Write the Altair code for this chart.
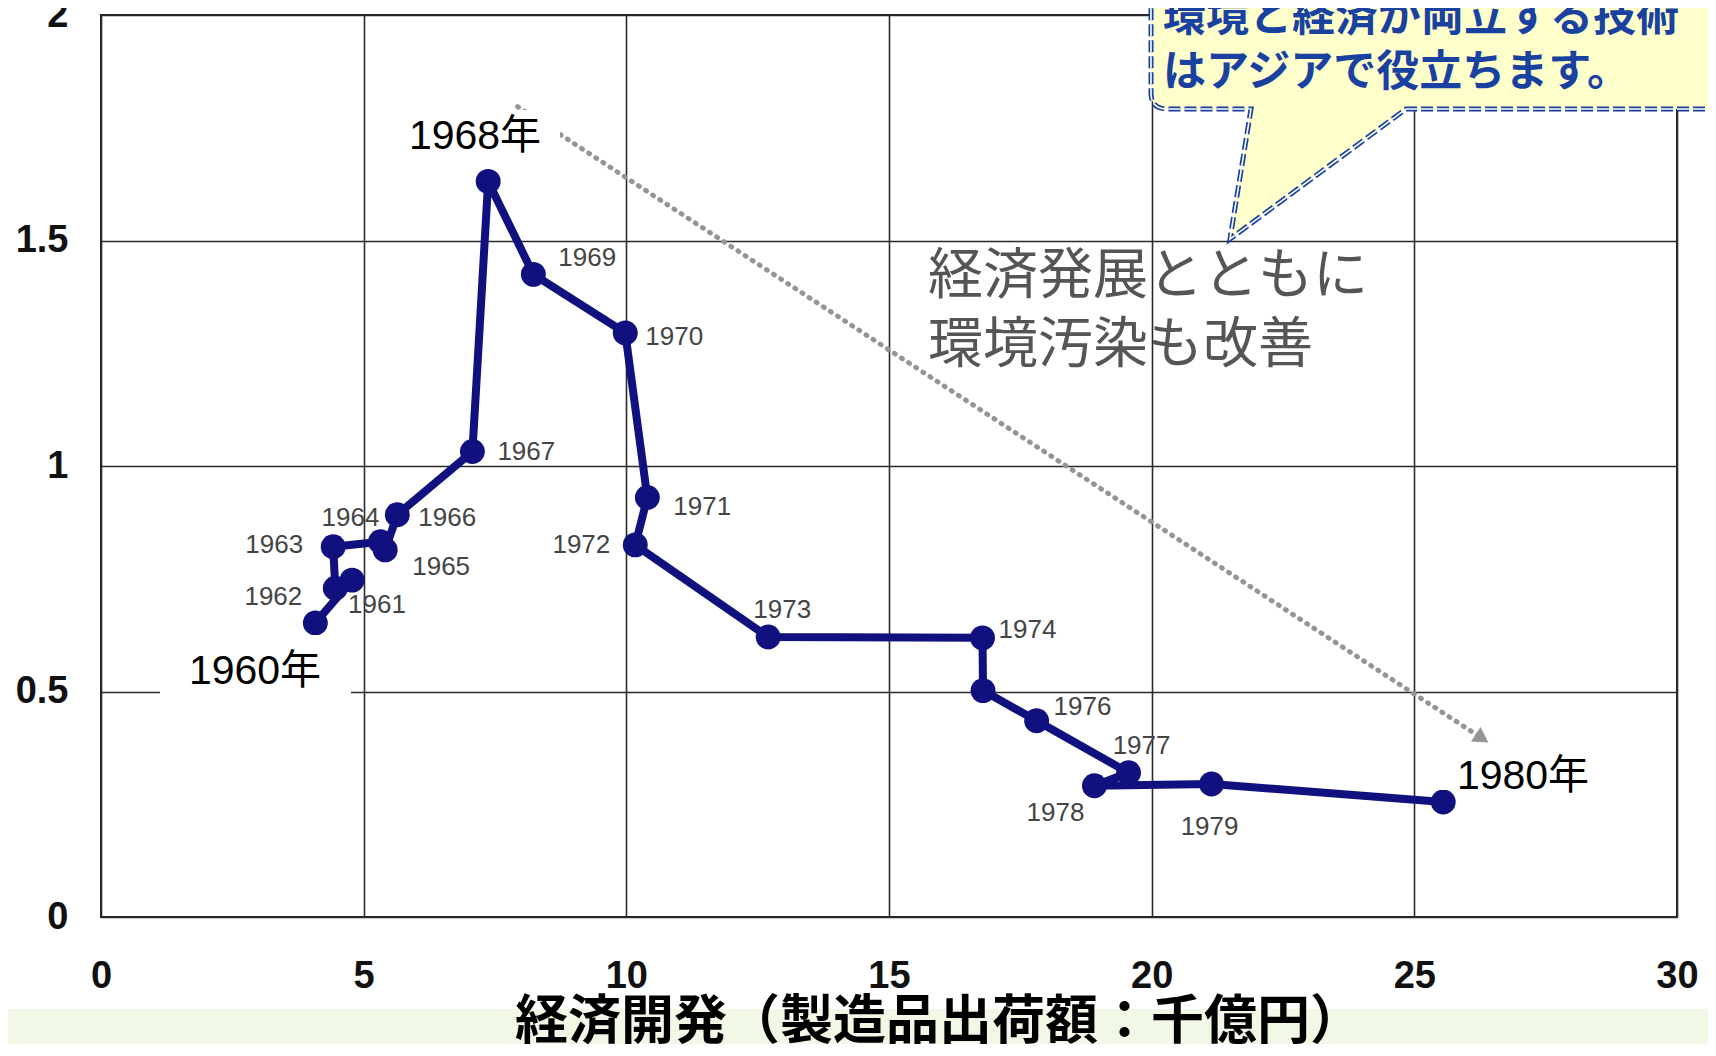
import math
import altair as alt
import pandas as pd

# ---------------- data ----------------
years = list(range(1960, 1981))
production = [4.08, 4.78, 4.46, 4.42, 5.32, 5.41, 5.64, 7.07, 7.37, 8.23, 9.98,
              10.40, 10.17, 12.70, 16.78, 16.79, 17.81, 19.56, 18.91, 21.14, 25.55]
pollution = [0.652, 0.747, 0.729, 0.821, 0.832, 0.814, 0.892, 1.032, 1.631, 1.425, 1.295,
             0.930, 0.825, 0.621, 0.619, 0.502, 0.435, 0.320, 0.291, 0.295, 0.255]
x_ticks = [0, 5, 10, 15, 20, 25, 30]
y_ticks = [0, 0.5, 1, 1.5, 2]
trend_x = [7.93, 26.29]
trend_y = [1.797, 0.396]
x_title = "経済開発（製造品出荷額：千億円）"
note_lines = ["経済発展とともに", "環境汚染も改善"]
callout_lines = ["環境と経済が両立する技術", "はアジアで役立ちます。"]
big_labels = {1960: "1960年", 1968: "1968年", 1980: "1980年"}

# ---------------- layout (kept apart from the data) ----------------
W, H = 1576, 902
NAVY = "#10107F"
LABEL_FONT = "Liberation Sans"
LABEL_LAYOUT = {
    1961: ("left", -4, 25), 1962: ("right", -33, 9), 1963: ("right", -30, -2),
    1964: ("center", -30, -24), 1965: ("left", 27, 17), 1966: ("left", 21, 3),
    1967: ("left", 25, 0), 1968: ("center", 2, -33), 1969: ("left", 25, -16),
    1970: ("left", 20, 4), 1971: ("left", 26, 9), 1972: ("right", -25, 0),
    1973: ("center", 14, -27), 1974: ("left", 16, -8), 1976: ("left", 17, -14),
    1977: ("center", 13, -27), 1978: ("right", -10, 27), 1979: ("center", -2, 43),
}
BIG_LAYOUT = {  # box x, x2, y, y2 ; text x, y   (plot pixels)
    1960: (59, 250, 620, 682, 154, 657),
    1968: (304, 459, 95, 145, 374, 122),
    1980: (1335, 1499, 730, 775, 1422, 762),
}

df = pd.DataFrame({"year": years, "x": production, "y": pollution,
                   "label": [str(y) for y in years]})
trend = pd.DataFrame({"x": trend_x, "y": trend_y})
one = pd.DataFrame({"k": [0]})

xs = alt.Scale(domain=[0, 30], nice=False, zero=False)
ys = alt.Scale(domain=[0, 2], nice=False, zero=False)

x_axis = alt.Axis(values=x_ticks, title=None, grid=True, gridColor="#2a2a2a", gridWidth=1.6,
                  domain=False, ticks=False, tickSize=0, labelFont="Liberation Sans",
                  labelFontSize=38, labelFontWeight="bold", labelColor="#111",
                  labelPadding=59, labelBaseline="middle", labelFlush=False)
y_axis = alt.Axis(values=y_ticks, title=None, grid=True, gridColor="#2a2a2a", gridWidth=1.6,
                  domain=False, ticks=False, tickSize=0, labelFont="Liberation Sans",
                  labelFontSize=38, labelFontWeight="bold", labelColor="#111",
                  labelPadding=33, labelFlush=False,
                  labelExpr="datum.value == 0 ? '0' : format(datum.value, '.2~f')")

layers = []

# light green band at the bottom
layers.append(alt.Chart(one).mark_rect(color="#F1F9E6").encode(
    x=alt.value(-93), x2=alt.value(1607), y=alt.value(994), y2=alt.value(1040)))

# axes carrier + dotted trend arrow
layers.append(alt.Chart(trend).mark_line(color="#959595", strokeWidth=5,
                                         strokeDash=[1, 7.5], strokeCap="round").encode(
    x=alt.X("x:Q", scale=xs, axis=x_axis),
    y=alt.Y("y:Q", scale=ys, axis=y_axis)))
angle = math.degrees(math.atan2((trend_y[0] - trend_y[1]) * H / 2,
                                (trend_x[1] - trend_x[0]) * W / 30))
layers.append(alt.Chart(trend.iloc[[1]]).mark_point(
    shape="triangle-right", filled=True, color="#959595", opacity=1,
    size=300, angle=angle).encode(x=alt.X("x:Q", scale=xs), y=alt.Y("y:Q", scale=ys)))

# small year labels
for yr, (align, dx, dy) in LABEL_LAYOUT.items():
    layers.append(alt.Chart(df).transform_filter(alt.datum.year == yr).mark_text(
        align=align, baseline="middle", dx=dx, dy=dy, font=LABEL_FONT,
        fontSize=26, color="#444").encode(
        x=alt.X("x:Q", scale=xs), y=alt.Y("y:Q", scale=ys), text="label:N"))

# data line and points
layers.append(alt.Chart(df).mark_line(color=NAVY, strokeWidth=8, strokeJoin="round").encode(
    x=alt.X("x:Q", scale=xs), y=alt.Y("y:Q", scale=ys), order="year:Q"))
layers.append(alt.Chart(df).mark_point(filled=True, color=NAVY, opacity=1, size=620).encode(
    x=alt.X("x:Q", scale=xs), y=alt.Y("y:Q", scale=ys)))

# big labels on white boxes
for yr, txt in big_labels.items():
    bx, bx2, by, by2, tx, ty = BIG_LAYOUT[yr]
    layers.append(alt.Chart(one).mark_rect(color="white").encode(
        x=alt.value(bx), x2=alt.value(bx2), y=alt.value(by), y2=alt.value(by2)))
    layers.append(alt.Chart(one).mark_text(
        font="Liberation Sans, Noto Sans CJK JP", fontSize=41, color="#000",
        align="center", baseline="middle").encode(
        x=alt.value(tx), y=alt.value(ty), text=alt.value(txt)))

# gray note
for i, line in enumerate(note_lines):
    layers.append(alt.Chart(one).mark_text(
        font="Noto Sans CJK JP", fontSize=55, color="#555", align="left",
        baseline="middle").encode(x=alt.value(827), y=alt.value(261 + 69 * i),
                                  text=alt.value(line)))

# callout balloon (custom symbol path, scale = sqrt(size)/2 = 400 px per unit)
balloon = ("M 0.725 -0.015 L -0.0625 -0.015 L -0.5025 0.31 L -0.45 -0.015 "
           "L -0.66 -0.015 Q -0.7 -0.015 -0.7 -0.055 L -0.7 -0.35 L 0.725 -0.35 Z")
layers.append(alt.Chart(one).mark_point(
    shape=balloon, fill="#FFFFCC", fillOpacity=1, stroke="#1941A0", strokeWidth=5,
    strokeDash=[12, 4], opacity=1, strokeOpacity=1).encode(
    x=alt.value(1330), y=alt.value(100), size=alt.value(640000)))
layers.append(alt.Chart(one).mark_point(
    shape=balloon, filled=False, fillOpacity=0, stroke="white", strokeWidth=1.6,
    strokeDash=[12, 4], opacity=1, strokeOpacity=1).encode(
    x=alt.value(1330), y=alt.value(100), size=alt.value(640000)))
for i, line in enumerate(callout_lines):
    layers.append(alt.Chart(one).mark_text(
        font="Noto Sans CJK JP", fontSize=43, fontWeight="bold", color="#1941A0",
        align="left", baseline="middle").encode(
        x=alt.value(1062), y=alt.value(3 + 55 * i), text=alt.value(line)))

# x axis title (as text so it sits above the band)
layers.append(alt.Chart(one).mark_text(
    font="Noto Sans CJK JP", fontSize=53, fontWeight="bold", color="#000",
    align="center", baseline="middle").encode(
    x=alt.value(838), y=alt.value(1008), text=alt.value(x_title)))

chart = alt.layer(*layers).properties(
    width=W, height=H,
    autosize=alt.AutoSizeParams(type="none"),
    padding={"left": 93, "top": 7, "right": 31, "bottom": 127},
    background="white",
).configure_view(stroke="#222", strokeWidth=2)

chart.save("out.html", embed_options={"renderer": "svg", "actions": False})
